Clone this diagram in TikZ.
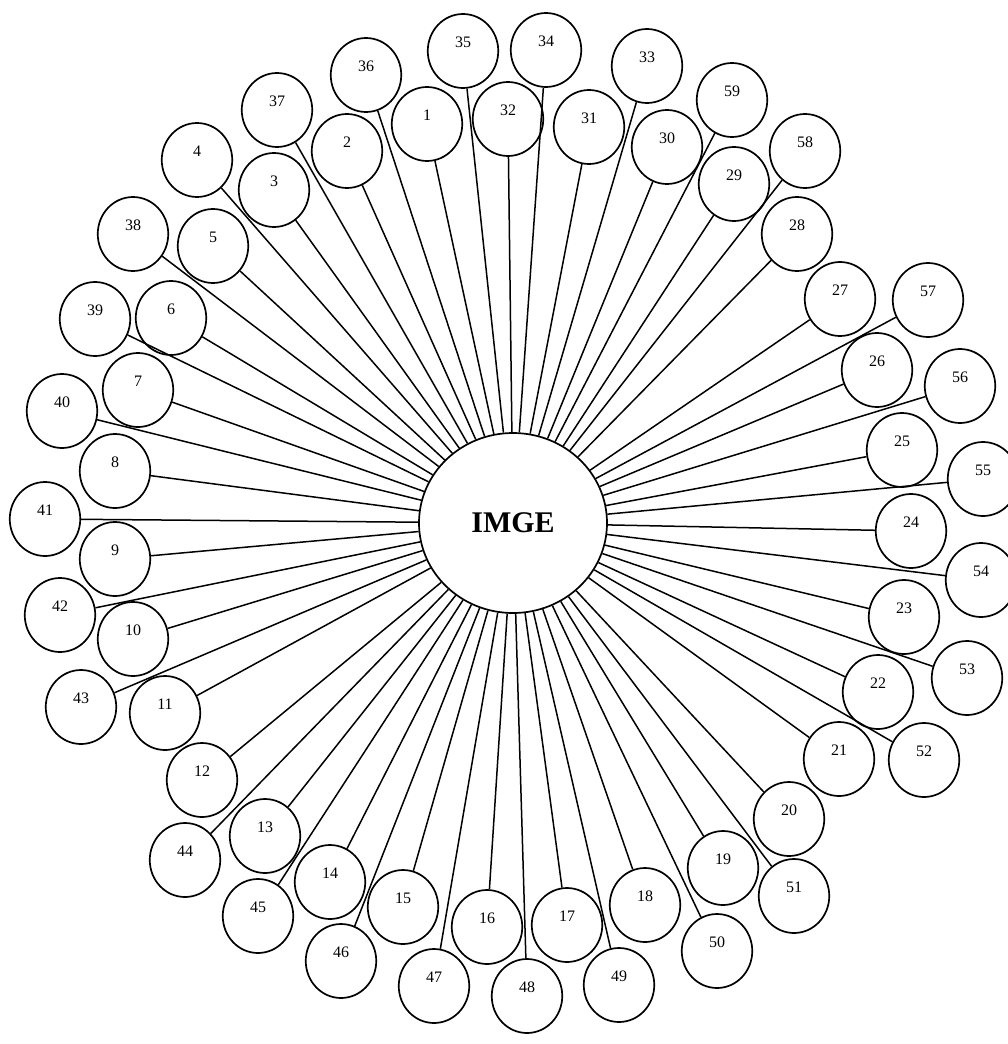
\documentclass[tikz,border=0pt]{standalone}
\usepackage{fontspec}
\setmainfont{Liberation Serif}
\usetikzlibrary{shapes.geometric}

\tikzset{
  leaf/.style={ellipse, draw, line width=1.7pt, fill=white,
    minimum width=70.5pt, minimum height=74pt, inner sep=0pt,
    text height=11pt, text depth=18pt, font=\fontsize{16}{16}\selectfont},
  hub/.style={ellipse, draw, line width=1.7pt, fill=white,
    minimum width=188pt, minimum height=180pt, inner sep=0pt,
    font=\fontsize{30}{30}\selectfont\bfseries},
  spoke/.style={line width=1.5pt}
}

\begin{document}
\begin{tikzpicture}[x=1pt, y=-1pt]
  \useasboundingbox (0,0) rectangle (1008,1044);
  % the hub
  \node[hub] (imge) at (513,523) {IMGE};
  % inner ring
  \node[leaf] (n1) at (427,124) {1};
  \node[leaf] (n2) at (347,151) {2};
  \node[leaf] (n3) at (274,190) {3};
  \node[leaf] (n4) at (197,160) {4};
  \node[leaf] (n5) at (213,246) {5};
  \node[leaf] (n6) at (171,318) {6};
  \node[leaf] (n7) at (138,390) {7};
  \node[leaf] (n8) at (115,471) {8};
  \node[leaf] (n9) at (115,559) {9};
  \node[leaf] (n10) at (133,639) {10};
  \node[leaf] (n11) at (165,713) {11};
  \node[leaf] (n12) at (202,780) {12};
  \node[leaf] (n13) at (265,836) {13};
  \node[leaf] (n14) at (330,882) {14};
  \node[leaf] (n15) at (403,907) {15};
  \node[leaf] (n16) at (487,927) {16};
  \node[leaf] (n17) at (567,925) {17};
  \node[leaf] (n18) at (645,905) {18};
  \node[leaf] (n19) at (723,868) {19};
  \node[leaf] (n20) at (789,819) {20};
  \node[leaf] (n21) at (839,759) {21};
  \node[leaf] (n22) at (878,692) {22};
  \node[leaf] (n23) at (904,617) {23};
  \node[leaf] (n24) at (911,531) {24};
  \node[leaf] (n25) at (902,450) {25};
  \node[leaf] (n26) at (877,370) {26};
  \node[leaf] (n27) at (840,299) {27};
  \node[leaf] (n28) at (797,234) {28};
  \node[leaf] (n29) at (734,184) {29};
  \node[leaf] (n30) at (667,147) {30};
  \node[leaf] (n31) at (589,127) {31};
  \node[leaf] (n32) at (508,119) {32};
  % outer ring
  \node[leaf] (n33) at (647,66) {33};
  \node[leaf] (n34) at (546,50) {34};
  \node[leaf] (n35) at (463,51) {35};
  \node[leaf] (n36) at (366,75) {36};
  \node[leaf] (n37) at (277,110) {37};
  \node[leaf] (n38) at (133,234) {38};
  \node[leaf] (n39) at (95,319) {39};
  \node[leaf] (n40) at (62,411) {40};
  \node[leaf] (n41) at (45,519) {41};
  \node[leaf] (n42) at (60,615) {42};
  \node[leaf] (n43) at (81,707) {43};
  \node[leaf] (n44) at (185,860) {44};
  \node[leaf] (n45) at (258,916) {45};
  \node[leaf] (n46) at (341,961) {46};
  \node[leaf] (n47) at (434,986) {47};
  \node[leaf] (n48) at (527,996) {48};
  \node[leaf] (n49) at (619,985) {49};
  \node[leaf] (n50) at (717,951) {50};
  \node[leaf] (n51) at (794,896) {51};
  \node[leaf] (n52) at (924,760) {52};
  \node[leaf] (n53) at (967,678) {53};
  \node[leaf] (n54) at (981,580) {54};
  \node[leaf] (n55) at (983,479) {55};
  \node[leaf] (n56) at (960,386) {56};
  \node[leaf] (n57) at (928,300) {57};
  \node[leaf] (n58) at (805,151) {58};
  \node[leaf] (n59) at (732,100) {59};
  % spokes
  \draw[spoke] (imge) -- (n1) (imge) -- (n2) (imge) -- (n3) (imge) -- (n4)
    (imge) -- (n5) (imge) -- (n6) (imge) -- (n7) (imge) -- (n8)
    (imge) -- (n9) (imge) -- (n10) (imge) -- (n11) (imge) -- (n12)
    (imge) -- (n13) (imge) -- (n14) (imge) -- (n15) (imge) -- (n16)
    (imge) -- (n17) (imge) -- (n18) (imge) -- (n19) (imge) -- (n20)
    (imge) -- (n21) (imge) -- (n22) (imge) -- (n23) (imge) -- (n24)
    (imge) -- (n25) (imge) -- (n26) (imge) -- (n27) (imge) -- (n28)
    (imge) -- (n29) (imge) -- (n30) (imge) -- (n31) (imge) -- (n32);
  \draw[spoke] (imge) -- (n33) (imge) -- (n34) (imge) -- (n35) (imge) -- (n36)
    (imge) -- (n37) (imge) -- (n38) (imge) -- (n39) (imge) -- (n40)
    (imge) -- (n41) (imge) -- (n42) (imge) -- (n43) (imge) -- (n44)
    (imge) -- (n45) (imge) -- (n46) (imge) -- (n47) (imge) -- (n48)
    (imge) -- (n49) (imge) -- (n50) (imge) -- (n51) (imge) -- (n52)
    (imge) -- (n53) (imge) -- (n54) (imge) -- (n55) (imge) -- (n56)
    (imge) -- (n57) (imge) -- (n58) (imge) -- (n59);
\end{tikzpicture}
\end{document}
